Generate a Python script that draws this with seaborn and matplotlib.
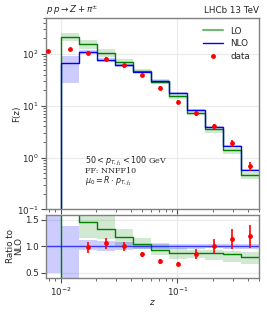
import numpy as np
import pandas as pd
import matplotlib
matplotlib.use("Agg")
import matplotlib.pyplot as plt
from matplotlib.lines import Line2D
import seaborn as sns

# bin edges in z
edges = [0.0062, 0.01, 0.0143, 0.0204, 0.0291, 0.0415, 0.0592, 0.0845,
         0.1206, 0.1721, 0.2455, 0.3504, 0.5]

# NLO prediction with scale band
nlo = [0.05, 66, 107, 77, 60, 45, 30.7, 17.8, 8.4, 3.95, 1.65, 0.58]
nlo_lo = [0.025, 27, 99, 71, 56, 43.2, 29.5, 17.1, 8.05, 3.8, 1.58, 0.555]
nlo_hi = [0.079, 92, 120, 85, 65, 46.8, 31.9, 18.5, 8.75, 4.1, 1.72, 0.605]

# LO prediction with scale band
lo = [0.01, 209, 156, 103, 71, 47, 28.8, 15.5, 7.4, 3.5, 1.41, 0.465]
lo_lo = [0.005, 181, 125, 88, 61, 42.8, 25.8, 13.5, 6.55, 2.96, 1.155, 0.389]
lo_hi = [0.02, 253, 188, 123, 80, 51.8, 32.5, 17.3, 7.9, 3.71, 1.50, 0.516]

# LHCb data
data = [112, 125, 105, 81.5, 60, 38.5, 22.2, 11.9, 7.2, 4.0, 1.88, 0.69]
data_err = [8, 8, 10.5, 7.5, 5.5, 2.2, 1.5, 0.8, 0.8, 0.5, 0.3, 0.13]

sns.set_style("whitegrid", {"axes.edgecolor": "0.5", "grid.color": "0.92",
                            "xtick.bottom": True, "ytick.left": True})
plt.rcParams["font.family"] = ["DejaVu Sans"]
fs = 6.3

e = np.array(edges)
zc = np.sqrt(e[:-1] * e[1:])
df = pd.DataFrame({"z": zc, "nlo": nlo, "nlo_lo": nlo_lo, "nlo_hi": nlo_hi,
                   "lo": lo, "lo_lo": lo_lo, "lo_hi": lo_hi,
                   "data": data, "err": data_err})
df["r_lo"] = df.lo / df.nlo
df["r_lo_lo"] = df.lo_lo / df.nlo
df["r_lo_hi"] = df.lo_hi / df.nlo
df["r_nlo_lo"] = df.nlo_lo / df.nlo
df["r_nlo_hi"] = df.nlo_hi / df.nlo
df["r_data"] = df.data / df.nlo
df["r_err"] = df.err / df.nlo
df["one"] = 1.0


def stepvals(col):
    v = df[col].to_numpy()
    return np.append(v, v[-1])


fig = plt.figure(figsize=(2.67, 3.12), dpi=100)
ax = fig.add_axes([0.172, 0.329, 0.798, 0.614])
axr = fig.add_axes([0.172, 0.108, 0.798, 0.204], sharex=ax)

green = "green"
for a, pre in [(ax, ""), (axr, "r_")]:
    a.fill_between(e, stepvals(pre + "lo_lo"), stepvals(pre + "lo_hi"),
                   step="post", color=green, alpha=0.18, lw=0)
    a.fill_between(e, stepvals(pre + "nlo_lo"), stepvals(pre + "nlo_hi"),
                   step="post", color="blue", alpha=0.2, lw=0)

# main panel
sns.lineplot(x=e, y=stepvals("lo"), drawstyle="steps-post", color=green,
             lw=1.0, sort=False, estimator=None, ax=ax)
sns.lineplot(x=e, y=stepvals("nlo"), drawstyle="steps-post", color="blue",
             lw=1.0, sort=False, estimator=None, ax=ax)
ax.errorbar(df.z, df.data, yerr=df.err, fmt="none", ecolor="red", lw=1.2)
sns.scatterplot(data=df, x="z", y="data", color="red", s=12, lw=0, ax=ax, zorder=5)

# ratio panel
sns.lineplot(x=e, y=stepvals("r_lo"), drawstyle="steps-post", color=green,
             lw=1.0, sort=False, estimator=None, ax=axr)
sns.lineplot(x=e, y=stepvals("one"), drawstyle="steps-post", color="blue",
             lw=1.0, alpha=0.7, sort=False, estimator=None, ax=axr)
axr.errorbar(df.z, df.r_data, yerr=df.r_err, fmt="none", ecolor="red", lw=1.2)
sns.scatterplot(data=df, x="z", y="r_data", color="red", s=12, lw=0, ax=axr, zorder=5)

ax.set_xscale("log")
ax.set_yscale("log")
ax.set_xlim(0.0075, 0.5)
ax.set_ylim(0.1, 500)
axr.set_ylim(0.4, 1.6)
axr.set_yticks([0.5, 1.0, 1.5])
axr.set_yticklabels(["0.5", "1.0", "1.5"])

for a in (ax, axr):
    a.tick_params(which="both", direction="out", labelsize=fs, color="0.3", pad=1.5)
    a.tick_params(which="major", length=3.5, width=0.8)
    a.tick_params(which="minor", length=2, width=0.6, left=True, bottom=True)
    a.grid(True, which="major", lw=0.8)
    a.grid(False, which="minor")
    for s in a.spines.values():
        s.set_linewidth(1.0)
plt.setp(ax.get_xticklabels(), visible=False)

ax.set_xlabel("")
ax.set_ylabel("F(z)", fontsize=fs)
ax.yaxis.set_label_coords(-0.115, 0.5)
axr.set_ylabel("Ratio to\nNLO", fontsize=fs, linespacing=1.0)
axr.yaxis.set_label_coords(-0.105, 0.5)
axr.set_xlabel("$z$", fontsize=fs, labelpad=0)

txt = dict(transform=ax.transAxes, fontsize=5.8, family="DejaVu Serif", va="center")
ax.text(0.183, 0.250, r"$50 < p_{T,j_1} < 100$ GeV", **txt)
ax.text(0.183, 0.199, "FF: NNFF10", **txt)
ax.text(0.183, 0.146, r"$\mu_0 = R \cdot p_{T,j_1}$", **txt)

fig.text(0.172, 0.966, r"$p\,p \rightarrow Z + \pi^{\pm}$", fontsize=fs, ha="left", va="center")
fig.text(0.97, 0.966, "LHCb 13 TeV", fontsize=fs, ha="right", va="center")

handles = [Line2D([], [], color=green, lw=1.5, alpha=0.55),
           Line2D([], [], color="blue", lw=1.0),
           Line2D([], [], color="red", marker="o", ls="none", ms=2.5)]
ax.legend(handles, ["LO", "NLO", "data"], loc="upper right", frameon=False,
          fontsize=fs, handlelength=2.3, labelspacing=0.45, borderaxespad=0.6)

fig.savefig("out.png", dpi=100)
